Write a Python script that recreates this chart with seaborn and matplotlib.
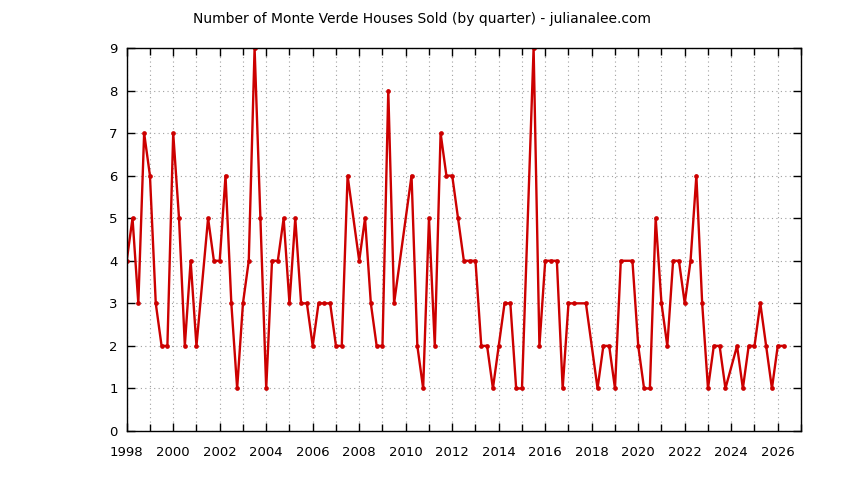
import matplotlib
matplotlib.use("Agg")
import matplotlib.pyplot as plt
import matplotlib.ticker as mticker
import seaborn as sns
import pandas as pd

# Houses sold per quarter (None = no data point for that quarter)
years = list(range(1998, 2027))
sales_q1 = [4, 6, 7, 2, 4, 3, 1, 3, 2, 2, 4, 2, None, 5, 6, 4, 2, 1, 4, 3, None, 1, 2, 3, 3, 1, None, 2, 2]
sales_q2 = [5, 3, 5, None, 6, 4, 4, 5, 3, 2, 5, 8, 6, 2, 5, 2, 3, None, 4, 3, 1, 4, 1, 2, 4, 2, 2, 3, 2]
sales_q3 = [3, 2, 2, 5, 3, 9, 4, 3, 3, 6, 3, 3, 2, 7, 4, 2, 3, 9, 4, None, 2, None, 1, 4, 6, 2, 1, 2, None]
sales_q4 = [7, 2, 4, 4, 1, 5, 5, 3, 3, None, 2, None, 1, 6, 4, 1, 1, 2, 1, 3, 2, 4, 5, 4, 3, 1, 2, 1, None]

title = "Number of Monte Verde Houses Sold (by quarter) - julianalee.com"
x_major_ticks = list(range(1998, 2027, 2))
y_ticks = list(range(0, 10))

rows = []
for i, yr in enumerate(years):
    for q, series in enumerate([sales_q1, sales_q2, sales_q3, sales_q4]):
        v = series[i]
        if v is not None:
            rows.append({"t": yr + q / 4.0, "sold": v})
df = pd.DataFrame(rows).sort_values("t")

sns.set_theme(style="white")
plt.rcParams['font.family'] = ['DejaVu Sans']

fig = plt.figure(figsize=(8.44, 4.80), dpi=100)
ax = fig.add_axes([126.7 / 844, 49 / 480, (801 - 126.7) / 844, (432 - 49) / 480])

sns.lineplot(data=df, x="t", y="sold", ax=ax, color="#cc0000", linewidth=1.7,
             marker="o", markersize=3.4, markeredgewidth=0, sort=True, estimator=None)

ax.set_xlim(1998, 2027)
ax.set_ylim(0, 9)
ax.set_xlabel("")
ax.set_ylabel("")

ax.xaxis.set_major_locator(mticker.FixedLocator(x_major_ticks))
ax.xaxis.set_minor_locator(mticker.MultipleLocator(1))
ax.set_yticks(y_ticks)

ax.tick_params(axis="both", which="major", direction="in", length=6, width=1,
               colors="black", labelsize=9.5, top=True, right=True, bottom=True, left=True)
ax.tick_params(axis="x", which="major", pad=11)
ax.tick_params(axis="x", which="minor", direction="in", length=5, width=1,
               top=True, bottom=True, color="black")
ax.tick_params(axis="y", which="major", pad=6.5)

ax.grid(True, which="both", axis="x", color="#a0a0a0", linestyle=(0, (1, 3)), linewidth=0.8)
ax.grid(True, which="major", axis="y", color="#a0a0a0", linestyle=(0, (1, 3)), linewidth=0.8)

for s in ax.spines.values():
    s.set_visible(True)
    s.set_color("black")
    s.set_linewidth(1.0)

fig.text(0.5, 1 - 19 / 480, title, ha="center", va="center", fontsize=10, color="black")

fig.savefig("out.png", dpi=100)
